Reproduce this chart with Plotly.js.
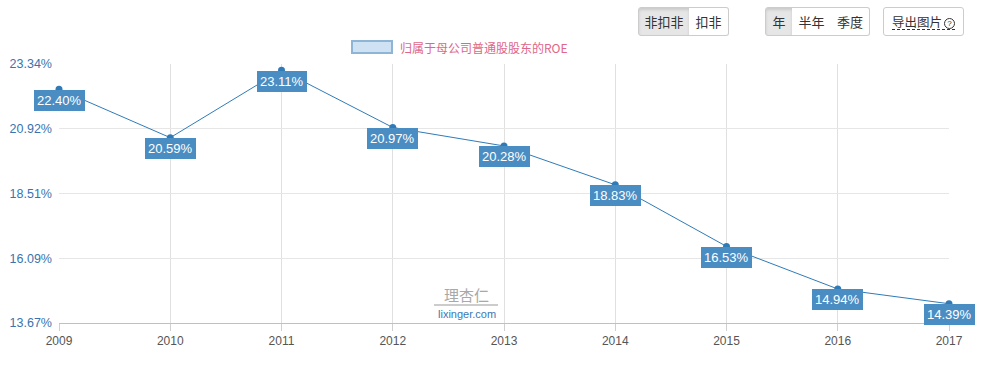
<!DOCTYPE html>
<html>
<head>
<meta charset="utf-8">
<script src="https://cdn.plot.ly/plotly-3.0.1.min.js"></script>
<style>
  html, body { margin: 0; padding: 0; background: #fff; }
  #wrap { position: relative; width: 991px; height: 368px; }
  #chart { width: 991px; height: 368px; }
  .btn { position: absolute; top: 7px; height: 29px; box-sizing: border-box; border: 1px solid #ccc;
         font-family: "Noto Sans CJK SC", sans-serif; font-size: 13px; color: #333; line-height: 27px;
         text-align: center; background: #fff; white-space: nowrap; }
  .act { background: #e6e6e6; box-shadow: inset 0 2px 3px rgba(0,0,0,0.12); }
  .l { border-radius: 3px 0 0 3px; }
  .r { border-radius: 0 3px 3px 0; }
  .m { border-radius: 0; }
  .one { border-radius: 3px; }
  .dash { border-bottom: 1px dashed #333; line-height: 15px; display: inline-block; font-size: 12.5px; }
  .q { display: inline-block; width: 9px; height: 9px; border: 1px solid #333; border-radius: 50%;
       font-size: 8px; line-height: 9px; text-align: center; vertical-align: 1px; margin-left: 2px;
       font-family: "Liberation Sans", Arial, sans-serif; }
</style>
</head>
<body>
<div id="wrap">
  <div id="chart"></div>
  <div class="btn act l" style="left:638px;width:52px;">非扣非</div>
  <div class="btn r" style="left:689px;width:40px;border-left:none;">扣非</div>
  <div class="btn act l" style="left:765px;width:28px;">年</div>
  <div class="btn m" style="left:792px;width:40px;border-left:none;">半年</div>
  <div class="btn r" style="left:831px;width:39px;border-left:none;">季度</div>
  <div class="btn one" style="left:883px;width:81px;"><span class="dash">导出图片<span class="q">?</span></span></div>
</div>
<script>
const years = [2009, 2010, 2011, 2012, 2013, 2014, 2015, 2016, 2017];
const roe = [22.40, 20.59, 23.11, 20.97, 20.28, 18.83, 16.53, 14.94, 14.39];
const yTicks = [13.67, 16.09, 18.51, 20.92, 23.34];
const yTickText = ["13.67%", "16.09%", "18.51%", "20.92%", "23.34%"];
const seriesName = "归属于母公司普通股股东的ROE";

const lineColor = "#2f7bb8";
const labelBg = "#4a8dc3";

const trace = {
  x: years, y: roe, type: "scatter", mode: "lines+markers",
  line: { color: lineColor, width: 1 },
  marker: { color: lineColor, size: 7 },
  cliponaxis: false, showlegend: false, hoverinfo: "skip"
};

const annotations = years.map((yr, i) => ({
  x: yr, y: roe[i], xref: "x", yref: "y", showarrow: false,
  text: roe[i].toFixed(2) + "%", yshift: -11,
  bgcolor: labelBg, bordercolor: labelBg, borderwidth: 1, borderpad: 2,
  font: { family: "Liberation Sans, Arial, sans-serif", size: 13, color: "#fff" }
}));

annotations.push({
  xref: "paper", yref: "paper", x: 0.381, y: 1.0, yanchor: "middle", xanchor: "left",
  yshift: 17, showarrow: false, text: seriesName,
  font: { family: "Noto Sans CJK SC, sans-serif", size: 12, color: "#e0668a" }
});
annotations.push({
  xref: "paper", yref: "paper", x: 0.458, y: 0, xanchor: "center", yanchor: "middle",
  yshift: 29, showarrow: false, text: "理杏仁",
  font: { family: "Noto Sans CJK SC, sans-serif", size: 15, color: "#a8a8a8" }
});
annotations.push({
  xref: "paper", yref: "paper", x: 0.458, y: 0, xanchor: "center", yanchor: "middle",
  yshift: 9, showarrow: false, text: "lixinger.com",
  font: { family: "Liberation Sans, Arial, sans-serif", size: 11, color: "#3a78b5" }
});

const layout = {
  width: 991, height: 368,
  margin: { l: 59, r: 42, t: 64, b: 45 },
  paper_bgcolor: "#fff", plot_bgcolor: "#fff",
  showlegend: false,
  xaxis: {
    range: [2009, 2017], tickvals: years, ticktext: years.map(String),
    showgrid: true, gridcolor: "#e0e0e0", gridwidth: 1,
    zeroline: false, showline: true, linecolor: "#c0c0c0",
    ticks: "outside", ticklen: 7, tickcolor: "#d0d0d0",
    tickfont: { family: "Liberation Sans, Arial, sans-serif", size: 12, color: "#555" }
  },
  yaxis: {
    range: [13.67, 23.34], tickvals: yTicks, ticktext: yTickText,
    showgrid: true, gridcolor: "#e6e6e6", zeroline: false, showline: false,
    ticks: "", ticklabelstandoff: 6,
    tickfont: { family: "Liberation Sans, Arial, sans-serif", size: 12.5, color: "#3a73ad" }
  },
  shapes: [
    { type: "rect", xref: "paper", yref: "paper", x0: (352-59)/890, x1: (392-59)/890,
      y0: (368-45-53)/259, y1: (368-45-41)/259,
      fillcolor: "#cfe2f3", line: { color: "#8fb5d6", width: 2 } },
    { type: "line", xref: "paper", yref: "paper", x0: (434-59)/890, x1: (498-59)/890,
      y0: (368-45-305)/259, y1: (368-45-305)/259, line: { color: "#999", width: 1 } }
  ],
  annotations: annotations
};

Plotly.newPlot("chart", [trace], layout, { displayModeBar: false, staticPlot: true });
</script>
</body>
</html>
